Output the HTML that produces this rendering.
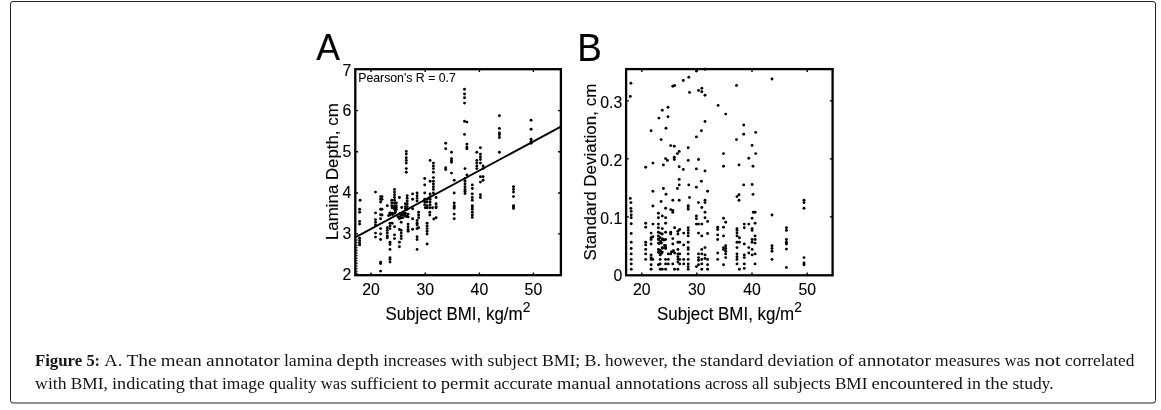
<!DOCTYPE html>
<html lang="en"><head><meta charset="utf-8"><title>Figure 5</title>
<style>
html,body{margin:0;padding:0;background:#fff;}
body{width:1161px;height:410px;position:relative;overflow:hidden;}
</style></head><body>
<svg width="1161" height="410" viewBox="0 0 1161 410" style="position:absolute;left:0;top:0;will-change:transform" font-family="Liberation Sans, Arial, sans-serif" fill="#000" stroke="#000" stroke-width="0"><rect x="10.5" y="1.5" width="1145" height="401.5" rx="2.5" ry="2.5" fill="#fff" stroke="#222" stroke-width="1"/><g stroke-width="0.12"><text transform="translate(316.2 60.4) scale(1 1.04)" font-size="35.6">A</text><text transform="translate(577.3 60.6) scale(1 1.04)" font-size="36.8">B</text><text transform="translate(358.2 81.8) scale(1 1.04)" font-size="12.3" stroke-width="0.05">Pearson's R = 0.7</text><text transform="translate(371.0 294.5)" font-size="15.8" text-anchor="middle">20</text><text transform="translate(425.2 294.5)" font-size="15.8" text-anchor="middle">30</text><text transform="translate(479.4 294.5)" font-size="15.8" text-anchor="middle">40</text><text transform="translate(533.4 294.5)" font-size="15.8" text-anchor="middle">50</text><text transform="translate(351.3 76.4)" font-size="15.8" text-anchor="end">7</text><text transform="translate(351.3 116.3)" font-size="15.8" text-anchor="end">6</text><text transform="translate(351.3 157.1)" font-size="15.8" text-anchor="end">5</text><text transform="translate(351.3 197.5)" font-size="15.8" text-anchor="end">4</text><text transform="translate(351.3 239.2)" font-size="15.8" text-anchor="end">3</text><text transform="translate(351.3 279.6)" font-size="15.8" text-anchor="end">2</text><text transform="translate(385.4 320.2) scale(1 1.04)" font-size="16.92">Subject BMI, kg/m<tspan font-size="13.8" dy="-7.6" dx="0.1">2</tspan></text><text transform="translate(338.1 240.0) rotate(-90)" font-size="16.85">Lamina Depth, cm</text><text transform="translate(641.8 294.5)" font-size="15.8" text-anchor="middle">20</text><text transform="translate(696.8 294.5)" font-size="15.8" text-anchor="middle">30</text><text transform="translate(752.0 294.5)" font-size="15.8" text-anchor="middle">40</text><text transform="translate(807.2 294.5)" font-size="15.8" text-anchor="middle">50</text><text transform="translate(622.2 281.4)" font-size="15.8" text-anchor="end">0</text><text transform="translate(622.2 224.1)" font-size="15.8" text-anchor="end">0.1</text><text transform="translate(622.2 166.0)" font-size="15.8" text-anchor="end">0.2</text><text transform="translate(622.2 108.2)" font-size="15.8" text-anchor="end">0.3</text><text transform="translate(657.0 320.2) scale(1 1.04)" font-size="16.92">Subject BMI, kg/m<tspan font-size="13.8" dy="-7.6" dx="0.1">2</tspan></text><text transform="translate(596.3 260.4) rotate(-90)" font-size="17.0">Standard Deviation, cm</text></g><g><circle cx="359.6" cy="209.3" r="1.45"/><circle cx="359.6" cy="212.3" r="1.45"/><circle cx="359.6" cy="221.4" r="1.45"/><circle cx="359.6" cy="224.1" r="1.45"/><circle cx="359.6" cy="238.2" r="1.45"/><circle cx="359.6" cy="240.7" r="1.45"/><circle cx="359.6" cy="243.1" r="1.45"/><circle cx="359.6" cy="244.9" r="1.45"/><circle cx="360.1" cy="200.2" r="1.45"/><circle cx="375.5" cy="192.1" r="1.45"/><circle cx="375.5" cy="212.9" r="1.45"/><circle cx="375.5" cy="219.6" r="1.45"/><circle cx="375.5" cy="222.3" r="1.45"/><circle cx="375.5" cy="225.0" r="1.45"/><circle cx="375.5" cy="233.1" r="1.45"/><circle cx="375.5" cy="237.1" r="1.45"/><circle cx="380.6" cy="196.6" r="1.45"/><circle cx="380.6" cy="199.3" r="1.45"/><circle cx="380.6" cy="202.0" r="1.45"/><circle cx="380.6" cy="209.3" r="1.45"/><circle cx="380.6" cy="214.7" r="1.45"/><circle cx="380.6" cy="218.7" r="1.45"/><circle cx="380.6" cy="228.6" r="1.45"/><circle cx="380.6" cy="234.0" r="1.45"/><circle cx="380.6" cy="239.5" r="1.45"/><circle cx="380.6" cy="262.1" r="1.45"/><circle cx="380.6" cy="263.5" r="1.45"/><circle cx="380.6" cy="271.1" r="1.45"/><circle cx="382.0" cy="196.6" r="1.45"/><circle cx="382.0" cy="199.3" r="1.45"/><circle cx="382.0" cy="209.3" r="1.45"/><circle cx="382.0" cy="215.0" r="1.45"/><circle cx="387.3" cy="205.7" r="1.45"/><circle cx="387.3" cy="227.7" r="1.45"/><circle cx="387.3" cy="230.4" r="1.45"/><circle cx="387.3" cy="233.1" r="1.45"/><circle cx="387.3" cy="235.9" r="1.45"/><circle cx="387.3" cy="237.7" r="1.45"/><circle cx="390.0" cy="213.2" r="1.45"/><circle cx="390.0" cy="215.0" r="1.45"/><circle cx="390.0" cy="223.2" r="1.45"/><circle cx="390.0" cy="225.9" r="1.45"/><circle cx="390.0" cy="228.6" r="1.45"/><circle cx="390.0" cy="242.2" r="1.45"/><circle cx="390.0" cy="244.4" r="1.45"/><circle cx="390.0" cy="249.4" r="1.45"/><circle cx="390.0" cy="257.6" r="1.45"/><circle cx="390.0" cy="259.4" r="1.45"/><circle cx="390.0" cy="262.1" r="1.45"/><circle cx="391.8" cy="200.2" r="1.45"/><circle cx="391.8" cy="202.9" r="1.45"/><circle cx="391.8" cy="205.7" r="1.45"/><circle cx="392.2" cy="207.8" r="1.45"/><circle cx="392.2" cy="213.2" r="1.45"/><circle cx="392.2" cy="223.2" r="1.45"/><circle cx="394.5" cy="189.4" r="1.45"/><circle cx="394.5" cy="192.1" r="1.45"/><circle cx="394.5" cy="194.8" r="1.45"/><circle cx="394.5" cy="197.5" r="1.45"/><circle cx="394.5" cy="200.2" r="1.45"/><circle cx="394.5" cy="202.9" r="1.45"/><circle cx="394.5" cy="205.7" r="1.45"/><circle cx="394.5" cy="207.8" r="1.45"/><circle cx="394.5" cy="209.6" r="1.45"/><circle cx="394.5" cy="213.2" r="1.45"/><circle cx="394.5" cy="226.8" r="1.45"/><circle cx="394.5" cy="234.9" r="1.45"/><circle cx="394.5" cy="238.6" r="1.45"/><circle cx="396.3" cy="202.9" r="1.45"/><circle cx="396.3" cy="205.7" r="1.45"/><circle cx="396.3" cy="207.8" r="1.45"/><circle cx="396.3" cy="209.6" r="1.45"/><circle cx="399.4" cy="197.5" r="1.45"/><circle cx="399.4" cy="214.1" r="1.45"/><circle cx="399.4" cy="216.9" r="1.45"/><circle cx="399.4" cy="218.7" r="1.45"/><circle cx="399.4" cy="229.5" r="1.45"/><circle cx="399.4" cy="242.2" r="1.45"/><circle cx="399.4" cy="246.7" r="1.45"/><circle cx="401.2" cy="215.0" r="1.45"/><circle cx="401.2" cy="217.8" r="1.45"/><circle cx="401.2" cy="222.3" r="1.45"/><circle cx="401.2" cy="230.4" r="1.45"/><circle cx="401.2" cy="233.1" r="1.45"/><circle cx="401.2" cy="235.9" r="1.45"/><circle cx="401.2" cy="238.6" r="1.45"/><circle cx="401.7" cy="207.5" r="1.45"/><circle cx="403.6" cy="212.3" r="1.45"/><circle cx="403.6" cy="214.1" r="1.45"/><circle cx="405.4" cy="203.8" r="1.45"/><circle cx="405.4" cy="206.6" r="1.45"/><circle cx="405.4" cy="208.7" r="1.45"/><circle cx="405.4" cy="213.2" r="1.45"/><circle cx="405.4" cy="216.0" r="1.45"/><circle cx="406.3" cy="151.4" r="1.45"/><circle cx="406.3" cy="154.1" r="1.45"/><circle cx="406.3" cy="157.7" r="1.45"/><circle cx="406.3" cy="160.4" r="1.45"/><circle cx="406.3" cy="163.1" r="1.45"/><circle cx="406.3" cy="168.6" r="1.45"/><circle cx="406.3" cy="172.2" r="1.45"/><circle cx="407.2" cy="195.7" r="1.45"/><circle cx="407.2" cy="198.4" r="1.45"/><circle cx="407.2" cy="201.1" r="1.45"/><circle cx="407.2" cy="203.8" r="1.45"/><circle cx="407.2" cy="206.6" r="1.45"/><circle cx="407.2" cy="209.3" r="1.45"/><circle cx="408.1" cy="214.1" r="1.45"/><circle cx="408.1" cy="216.9" r="1.45"/><circle cx="408.1" cy="224.1" r="1.45"/><circle cx="408.1" cy="226.8" r="1.45"/><circle cx="408.1" cy="229.5" r="1.45"/><circle cx="408.1" cy="231.3" r="1.45"/><circle cx="412.6" cy="193.9" r="1.45"/><circle cx="412.6" cy="199.3" r="1.45"/><circle cx="412.6" cy="208.7" r="1.45"/><circle cx="412.6" cy="218.7" r="1.45"/><circle cx="412.6" cy="229.2" r="1.45"/><circle cx="417.1" cy="193.0" r="1.45"/><circle cx="417.1" cy="195.7" r="1.45"/><circle cx="417.1" cy="198.4" r="1.45"/><circle cx="417.1" cy="201.1" r="1.45"/><circle cx="417.1" cy="220.5" r="1.45"/><circle cx="417.1" cy="223.2" r="1.45"/><circle cx="417.1" cy="225.0" r="1.45"/><circle cx="417.1" cy="228.6" r="1.45"/><circle cx="417.1" cy="236.8" r="1.45"/><circle cx="417.1" cy="239.5" r="1.45"/><circle cx="417.1" cy="249.4" r="1.45"/><circle cx="418.6" cy="212.3" r="1.45"/><circle cx="418.6" cy="215.0" r="1.45"/><circle cx="418.6" cy="217.8" r="1.45"/><circle cx="418.6" cy="227.7" r="1.45"/><circle cx="424.7" cy="178.5" r="1.45"/><circle cx="424.7" cy="184.9" r="1.45"/><circle cx="424.7" cy="193.0" r="1.45"/><circle cx="424.7" cy="199.3" r="1.45"/><circle cx="424.7" cy="202.0" r="1.45"/><circle cx="424.7" cy="204.8" r="1.45"/><circle cx="425.3" cy="207.8" r="1.45"/><circle cx="427.1" cy="199.3" r="1.45"/><circle cx="427.1" cy="202.0" r="1.45"/><circle cx="427.1" cy="205.7" r="1.45"/><circle cx="427.1" cy="207.8" r="1.45"/><circle cx="427.1" cy="223.2" r="1.45"/><circle cx="427.1" cy="225.9" r="1.45"/><circle cx="427.1" cy="228.6" r="1.45"/><circle cx="427.1" cy="231.3" r="1.45"/><circle cx="427.1" cy="234.0" r="1.45"/><circle cx="427.1" cy="244.0" r="1.45"/><circle cx="429.8" cy="207.8" r="1.45"/><circle cx="429.8" cy="212.3" r="1.45"/><circle cx="429.8" cy="215.0" r="1.45"/><circle cx="430.1" cy="160.4" r="1.45"/><circle cx="430.1" cy="181.2" r="1.45"/><circle cx="430.1" cy="193.9" r="1.45"/><circle cx="430.1" cy="196.6" r="1.45"/><circle cx="430.1" cy="199.3" r="1.45"/><circle cx="430.1" cy="202.0" r="1.45"/><circle cx="430.1" cy="204.8" r="1.45"/><circle cx="432.5" cy="207.8" r="1.45"/><circle cx="433.4" cy="163.1" r="1.45"/><circle cx="433.4" cy="165.9" r="1.45"/><circle cx="433.4" cy="168.6" r="1.45"/><circle cx="433.4" cy="172.2" r="1.45"/><circle cx="433.4" cy="177.6" r="1.45"/><circle cx="433.4" cy="181.2" r="1.45"/><circle cx="433.4" cy="183.9" r="1.45"/><circle cx="433.4" cy="186.7" r="1.45"/><circle cx="433.4" cy="189.4" r="1.45"/><circle cx="433.4" cy="193.0" r="1.45"/><circle cx="433.8" cy="219.0" r="1.45"/><circle cx="436.1" cy="197.5" r="1.45"/><circle cx="436.1" cy="203.8" r="1.45"/><circle cx="436.1" cy="206.6" r="1.45"/><circle cx="436.1" cy="207.8" r="1.45"/><circle cx="436.1" cy="217.8" r="1.45"/><circle cx="445.7" cy="143.2" r="1.45"/><circle cx="445.7" cy="148.7" r="1.45"/><circle cx="445.7" cy="167.7" r="1.45"/><circle cx="445.7" cy="169.5" r="1.45"/><circle cx="451.5" cy="152.3" r="1.45"/><circle cx="451.5" cy="158.6" r="1.45"/><circle cx="451.5" cy="160.4" r="1.45"/><circle cx="451.5" cy="162.2" r="1.45"/><circle cx="451.5" cy="173.1" r="1.45"/><circle cx="454.2" cy="180.3" r="1.45"/><circle cx="454.2" cy="193.0" r="1.45"/><circle cx="454.2" cy="202.9" r="1.45"/><circle cx="454.2" cy="205.7" r="1.45"/><circle cx="454.2" cy="206.9" r="1.45"/><circle cx="454.2" cy="208.4" r="1.45"/><circle cx="454.2" cy="214.1" r="1.45"/><circle cx="454.2" cy="218.7" r="1.45"/><circle cx="464.5" cy="89.2" r="1.45"/><circle cx="464.5" cy="94.0" r="1.45"/><circle cx="464.5" cy="97.7" r="1.45"/><circle cx="464.5" cy="103.1" r="1.45"/><circle cx="464.5" cy="121.2" r="1.45"/><circle cx="464.5" cy="134.4" r="1.45"/><circle cx="465.0" cy="168.6" r="1.45"/><circle cx="465.0" cy="178.5" r="1.45"/><circle cx="465.0" cy="181.2" r="1.45"/><circle cx="465.0" cy="183.9" r="1.45"/><circle cx="465.0" cy="186.7" r="1.45"/><circle cx="465.0" cy="189.4" r="1.45"/><circle cx="465.0" cy="191.2" r="1.45"/><circle cx="465.0" cy="193.5" r="1.45"/><circle cx="466.9" cy="122.1" r="1.45"/><circle cx="466.9" cy="144.1" r="1.45"/><circle cx="466.9" cy="146.9" r="1.45"/><circle cx="466.9" cy="148.7" r="1.45"/><circle cx="466.9" cy="174.9" r="1.45"/><circle cx="472.3" cy="184.9" r="1.45"/><circle cx="472.3" cy="188.5" r="1.45"/><circle cx="472.3" cy="193.9" r="1.45"/><circle cx="472.3" cy="197.5" r="1.45"/><circle cx="472.3" cy="200.2" r="1.45"/><circle cx="472.3" cy="205.7" r="1.45"/><circle cx="472.3" cy="206.9" r="1.45"/><circle cx="472.3" cy="209.3" r="1.45"/><circle cx="472.3" cy="212.3" r="1.45"/><circle cx="472.3" cy="215.0" r="1.45"/><circle cx="472.3" cy="217.4" r="1.45"/><circle cx="476.8" cy="152.3" r="1.45"/><circle cx="476.8" cy="160.4" r="1.45"/><circle cx="476.8" cy="163.1" r="1.45"/><circle cx="476.8" cy="165.9" r="1.45"/><circle cx="476.8" cy="168.6" r="1.45"/><circle cx="480.4" cy="147.8" r="1.45"/><circle cx="480.4" cy="154.1" r="1.45"/><circle cx="480.4" cy="156.8" r="1.45"/><circle cx="480.4" cy="159.5" r="1.45"/><circle cx="480.4" cy="163.1" r="1.45"/><circle cx="480.4" cy="176.7" r="1.45"/><circle cx="480.4" cy="182.1" r="1.45"/><circle cx="480.4" cy="194.8" r="1.45"/><circle cx="480.4" cy="197.5" r="1.45"/><circle cx="483.1" cy="165.9" r="1.45"/><circle cx="483.1" cy="168.6" r="1.45"/><circle cx="483.1" cy="176.7" r="1.45"/><circle cx="483.1" cy="180.3" r="1.45"/><circle cx="499.4" cy="115.8" r="1.45"/><circle cx="499.4" cy="128.4" r="1.45"/><circle cx="499.4" cy="132.9" r="1.45"/><circle cx="499.4" cy="134.8" r="1.45"/><circle cx="499.4" cy="137.5" r="1.45"/><circle cx="499.4" cy="152.3" r="1.45"/><circle cx="513.5" cy="186.7" r="1.45"/><circle cx="513.5" cy="189.4" r="1.45"/><circle cx="513.5" cy="192.1" r="1.45"/><circle cx="513.5" cy="196.6" r="1.45"/><circle cx="513.5" cy="205.7" r="1.45"/><circle cx="513.5" cy="206.9" r="1.45"/><circle cx="513.5" cy="208.4" r="1.45"/><circle cx="531.1" cy="120.3" r="1.45"/><circle cx="531.1" cy="129.3" r="1.45"/><circle cx="531.1" cy="139.3" r="1.45"/><circle cx="531.1" cy="141.4" r="1.45"/><circle cx="531.1" cy="143.2" r="1.45"/><circle cx="390" cy="213" r="1.45"/><circle cx="392.5" cy="214.6" r="1.45"/><circle cx="388.5" cy="215.6" r="1.45"/><circle cx="400" cy="213.5" r="1.45"/><circle cx="402.5" cy="215" r="1.45"/><circle cx="405" cy="214" r="1.45"/><circle cx="407" cy="216.5" r="1.45"/><circle cx="398" cy="217" r="1.45"/><circle cx="403" cy="217.6" r="1.45"/><circle cx="395.5" cy="212" r="1.45"/><circle cx="356.9" cy="240" r="0.8"/><circle cx="356.9" cy="242.6" r="0.8"/><circle cx="356.9" cy="245.2" r="0.8"/><circle cx="356.9" cy="247.8" r="0.8"/><circle cx="356.9" cy="250.4" r="0.8"/><circle cx="356.9" cy="253" r="0.8"/><circle cx="356.9" cy="255.6" r="0.8"/><circle cx="356.9" cy="258.2" r="0.8"/><circle cx="356.9" cy="260.8" r="0.8"/><circle cx="356.9" cy="263.4" r="0.8"/><circle cx="356.9" cy="266" r="0.8"/><circle cx="356.9" cy="268.6" r="0.8"/><circle cx="356.9" cy="271.2" r="0.8"/><circle cx="356.9" cy="273.4" r="0.8"/></g><path d="M355.3 237.4L560.9 126.6" stroke-width="1.8" fill="none"/><rect x="355.3" y="69.2" width="205.6" height="206.0" fill="none" stroke="#000" stroke-width="2.3"/><path d="M371.0 275.2v-2.8M371.0 69.2v2.8M425.2 275.2v-2.8M425.2 69.2v2.8M479.4 275.2v-2.8M479.4 69.2v2.8M533.4 275.2v-2.8M533.4 69.2v2.8M355.3 110.6h2.8M560.9 110.6h-2.8M355.3 151.8h2.8M560.9 151.8h-2.8M355.3 193.0h2.8M560.9 193.0h-2.8M355.3 233.9h2.8M560.9 233.9h-2.8" stroke="#000" stroke-width="1.4" fill="none"/><g><circle cx="630.3" cy="96.4" r="1.45"/><circle cx="630.3" cy="198.4" r="1.45"/><circle cx="630.9" cy="83.2" r="1.45"/><circle cx="630.9" cy="202.6" r="1.45"/><circle cx="630.9" cy="208.4" r="1.45"/><circle cx="631.2" cy="211.4" r="1.45"/><circle cx="631.2" cy="215.0" r="1.45"/><circle cx="631.2" cy="217.8" r="1.45"/><circle cx="631.2" cy="223.7" r="1.45"/><circle cx="631.2" cy="233.5" r="1.45"/><circle cx="631.2" cy="242.2" r="1.45"/><circle cx="631.2" cy="248.5" r="1.45"/><circle cx="631.2" cy="253.9" r="1.45"/><circle cx="631.2" cy="259.4" r="1.45"/><circle cx="631.2" cy="263.9" r="1.45"/><circle cx="631.2" cy="269.3" r="1.45"/><circle cx="645.7" cy="167.3" r="1.45"/><circle cx="645.7" cy="223.2" r="1.45"/><circle cx="645.7" cy="227.3" r="1.45"/><circle cx="645.7" cy="242.2" r="1.45"/><circle cx="645.7" cy="244.9" r="1.45"/><circle cx="645.7" cy="249.4" r="1.45"/><circle cx="645.7" cy="253.9" r="1.45"/><circle cx="645.7" cy="259.4" r="1.45"/><circle cx="651.1" cy="130.8" r="1.45"/><circle cx="651.1" cy="233.1" r="1.45"/><circle cx="651.1" cy="237.7" r="1.45"/><circle cx="651.1" cy="239.5" r="1.45"/><circle cx="651.1" cy="244.0" r="1.45"/><circle cx="651.1" cy="254.9" r="1.45"/><circle cx="651.1" cy="257.6" r="1.45"/><circle cx="651.1" cy="259.4" r="1.45"/><circle cx="651.1" cy="264.8" r="1.45"/><circle cx="651.1" cy="269.3" r="1.45"/><circle cx="652.9" cy="163.1" r="1.45"/><circle cx="652.9" cy="191.2" r="1.45"/><circle cx="652.9" cy="206.0" r="1.45"/><circle cx="652.9" cy="224.1" r="1.45"/><circle cx="652.9" cy="236.8" r="1.45"/><circle cx="652.9" cy="259.4" r="1.45"/><circle cx="658.4" cy="213.2" r="1.45"/><circle cx="658.4" cy="217.8" r="1.45"/><circle cx="658.4" cy="224.1" r="1.45"/><circle cx="658.4" cy="227.7" r="1.45"/><circle cx="658.4" cy="232.2" r="1.45"/><circle cx="658.4" cy="235.9" r="1.45"/><circle cx="658.4" cy="239.5" r="1.45"/><circle cx="658.4" cy="243.1" r="1.45"/><circle cx="658.4" cy="249.4" r="1.45"/><circle cx="658.4" cy="252.1" r="1.45"/><circle cx="658.4" cy="264.8" r="1.45"/><circle cx="658.9" cy="118.1" r="1.45"/><circle cx="660.2" cy="233.1" r="1.45"/><circle cx="660.2" cy="237.7" r="1.45"/><circle cx="660.2" cy="242.2" r="1.45"/><circle cx="660.2" cy="250.3" r="1.45"/><circle cx="660.2" cy="254.9" r="1.45"/><circle cx="660.2" cy="259.4" r="1.45"/><circle cx="660.2" cy="263.9" r="1.45"/><circle cx="660.2" cy="269.3" r="1.45"/><circle cx="661.1" cy="139.6" r="1.45"/><circle cx="661.1" cy="201.5" r="1.45"/><circle cx="662.3" cy="110.3" r="1.45"/><circle cx="662.3" cy="216.0" r="1.45"/><circle cx="662.3" cy="228.6" r="1.45"/><circle cx="662.3" cy="234.0" r="1.45"/><circle cx="662.3" cy="239.5" r="1.45"/><circle cx="662.3" cy="247.6" r="1.45"/><circle cx="662.3" cy="252.1" r="1.45"/><circle cx="662.3" cy="269.3" r="1.45"/><circle cx="663.4" cy="164.9" r="1.45"/><circle cx="663.4" cy="188.5" r="1.45"/><circle cx="665.6" cy="158.6" r="1.45"/><circle cx="665.6" cy="208.2" r="1.45"/><circle cx="665.6" cy="217.8" r="1.45"/><circle cx="665.6" cy="223.2" r="1.45"/><circle cx="665.6" cy="232.2" r="1.45"/><circle cx="665.6" cy="239.5" r="1.45"/><circle cx="665.6" cy="245.8" r="1.45"/><circle cx="665.6" cy="248.5" r="1.45"/><circle cx="665.6" cy="259.4" r="1.45"/><circle cx="665.6" cy="263.9" r="1.45"/><circle cx="665.6" cy="269.3" r="1.45"/><circle cx="666.0" cy="128.2" r="1.45"/><circle cx="666.0" cy="194.3" r="1.45"/><circle cx="667.4" cy="160.4" r="1.45"/><circle cx="668.0" cy="107.3" r="1.45"/><circle cx="668.0" cy="116.7" r="1.45"/><circle cx="668.3" cy="253.9" r="1.45"/><circle cx="668.3" cy="259.4" r="1.45"/><circle cx="668.3" cy="263.9" r="1.45"/><circle cx="670.7" cy="145.6" r="1.45"/><circle cx="670.7" cy="209.6" r="1.45"/><circle cx="670.7" cy="232.2" r="1.45"/><circle cx="670.7" cy="234.0" r="1.45"/><circle cx="670.7" cy="253.9" r="1.45"/><circle cx="672.8" cy="86.3" r="1.45"/><circle cx="672.8" cy="200.2" r="1.45"/><circle cx="672.8" cy="210.5" r="1.45"/><circle cx="672.8" cy="212.3" r="1.45"/><circle cx="672.8" cy="238.6" r="1.45"/><circle cx="672.8" cy="244.0" r="1.45"/><circle cx="672.8" cy="251.2" r="1.45"/><circle cx="672.8" cy="263.9" r="1.45"/><circle cx="674.3" cy="146.3" r="1.45"/><circle cx="674.3" cy="157.3" r="1.45"/><circle cx="674.3" cy="159.5" r="1.45"/><circle cx="674.6" cy="85.5" r="1.45"/><circle cx="674.6" cy="227.7" r="1.45"/><circle cx="674.6" cy="253.0" r="1.45"/><circle cx="674.6" cy="269.3" r="1.45"/><circle cx="677.4" cy="153.6" r="1.45"/><circle cx="677.4" cy="188.5" r="1.45"/><circle cx="677.9" cy="231.3" r="1.45"/><circle cx="677.9" cy="234.0" r="1.45"/><circle cx="677.9" cy="242.2" r="1.45"/><circle cx="677.9" cy="249.4" r="1.45"/><circle cx="677.9" cy="253.9" r="1.45"/><circle cx="677.9" cy="256.7" r="1.45"/><circle cx="677.9" cy="259.4" r="1.45"/><circle cx="677.9" cy="262.1" r="1.45"/><circle cx="677.9" cy="269.3" r="1.45"/><circle cx="679.2" cy="151.4" r="1.45"/><circle cx="679.2" cy="166.8" r="1.45"/><circle cx="679.2" cy="179.4" r="1.45"/><circle cx="679.2" cy="184.9" r="1.45"/><circle cx="679.2" cy="200.2" r="1.45"/><circle cx="679.7" cy="229.5" r="1.45"/><circle cx="679.7" cy="242.2" r="1.45"/><circle cx="679.7" cy="253.9" r="1.45"/><circle cx="679.7" cy="259.4" r="1.45"/><circle cx="679.7" cy="263.9" r="1.45"/><circle cx="683.3" cy="80.5" r="1.45"/><circle cx="683.3" cy="169.5" r="1.45"/><circle cx="683.7" cy="233.1" r="1.45"/><circle cx="683.7" cy="244.9" r="1.45"/><circle cx="683.7" cy="259.4" r="1.45"/><circle cx="683.7" cy="263.9" r="1.45"/><circle cx="688.2" cy="147.8" r="1.45"/><circle cx="688.2" cy="160.4" r="1.45"/><circle cx="688.2" cy="205.7" r="1.45"/><circle cx="688.2" cy="206.9" r="1.45"/><circle cx="688.2" cy="209.3" r="1.45"/><circle cx="688.2" cy="227.7" r="1.45"/><circle cx="688.2" cy="230.4" r="1.45"/><circle cx="688.2" cy="233.1" r="1.45"/><circle cx="688.2" cy="235.9" r="1.45"/><circle cx="688.2" cy="242.2" r="1.45"/><circle cx="688.2" cy="247.6" r="1.45"/><circle cx="688.2" cy="249.4" r="1.45"/><circle cx="688.2" cy="253.9" r="1.45"/><circle cx="688.2" cy="259.4" r="1.45"/><circle cx="688.2" cy="263.9" r="1.45"/><circle cx="688.2" cy="266.6" r="1.45"/><circle cx="688.2" cy="269.3" r="1.45"/><circle cx="688.8" cy="77.2" r="1.45"/><circle cx="688.8" cy="184.9" r="1.45"/><circle cx="689.5" cy="92.4" r="1.45"/><circle cx="689.5" cy="197.5" r="1.45"/><circle cx="696.4" cy="71.1" r="1.45"/><circle cx="696.4" cy="136.9" r="1.45"/><circle cx="696.4" cy="168.9" r="1.45"/><circle cx="696.4" cy="187.2" r="1.45"/><circle cx="696.4" cy="216.0" r="1.45"/><circle cx="696.4" cy="218.7" r="1.45"/><circle cx="696.4" cy="224.1" r="1.45"/><circle cx="696.4" cy="266.6" r="1.45"/><circle cx="698.5" cy="90.4" r="1.45"/><circle cx="698.5" cy="159.5" r="1.45"/><circle cx="698.5" cy="202.6" r="1.45"/><circle cx="698.5" cy="224.1" r="1.45"/><circle cx="698.5" cy="233.1" r="1.45"/><circle cx="698.5" cy="253.9" r="1.45"/><circle cx="698.5" cy="257.6" r="1.45"/><circle cx="698.5" cy="260.3" r="1.45"/><circle cx="698.5" cy="264.8" r="1.45"/><circle cx="701.4" cy="130.8" r="1.45"/><circle cx="701.4" cy="181.2" r="1.45"/><circle cx="701.8" cy="88.3" r="1.45"/><circle cx="701.8" cy="91.7" r="1.45"/><circle cx="701.8" cy="207.5" r="1.45"/><circle cx="701.8" cy="224.1" r="1.45"/><circle cx="701.8" cy="235.9" r="1.45"/><circle cx="701.8" cy="249.4" r="1.45"/><circle cx="701.8" cy="253.9" r="1.45"/><circle cx="701.8" cy="259.4" r="1.45"/><circle cx="701.8" cy="263.9" r="1.45"/><circle cx="701.8" cy="269.3" r="1.45"/><circle cx="705.0" cy="69.3" r="1.45"/><circle cx="705.0" cy="95.3" r="1.45"/><circle cx="705.0" cy="121.5" r="1.45"/><circle cx="705.0" cy="170.9" r="1.45"/><circle cx="705.0" cy="200.2" r="1.45"/><circle cx="705.0" cy="202.6" r="1.45"/><circle cx="705.0" cy="212.3" r="1.45"/><circle cx="705.0" cy="217.8" r="1.45"/><circle cx="705.0" cy="247.6" r="1.45"/><circle cx="705.0" cy="254.9" r="1.45"/><circle cx="705.0" cy="258.5" r="1.45"/><circle cx="707.6" cy="191.2" r="1.45"/><circle cx="707.6" cy="221.4" r="1.45"/><circle cx="707.6" cy="233.5" r="1.45"/><circle cx="707.6" cy="259.4" r="1.45"/><circle cx="707.6" cy="264.8" r="1.45"/><circle cx="707.6" cy="269.3" r="1.45"/><circle cx="717.7" cy="227.3" r="1.45"/><circle cx="717.7" cy="229.5" r="1.45"/><circle cx="717.7" cy="234.9" r="1.45"/><circle cx="717.7" cy="239.5" r="1.45"/><circle cx="717.7" cy="253.0" r="1.45"/><circle cx="717.7" cy="259.4" r="1.45"/><circle cx="718.1" cy="105.4" r="1.45"/><circle cx="723.5" cy="153.6" r="1.45"/><circle cx="723.5" cy="166.2" r="1.45"/><circle cx="723.5" cy="218.3" r="1.45"/><circle cx="723.5" cy="227.3" r="1.45"/><circle cx="723.5" cy="235.9" r="1.45"/><circle cx="723.5" cy="247.6" r="1.45"/><circle cx="723.5" cy="249.4" r="1.45"/><circle cx="723.5" cy="264.8" r="1.45"/><circle cx="725.7" cy="114.1" r="1.45"/><circle cx="725.7" cy="222.3" r="1.45"/><circle cx="725.7" cy="245.8" r="1.45"/><circle cx="725.7" cy="248.5" r="1.45"/><circle cx="725.7" cy="251.2" r="1.45"/><circle cx="725.7" cy="253.9" r="1.45"/><circle cx="725.7" cy="257.6" r="1.45"/><circle cx="736.5" cy="85.5" r="1.45"/><circle cx="736.5" cy="139.6" r="1.45"/><circle cx="737.0" cy="196.6" r="1.45"/><circle cx="737.0" cy="228.6" r="1.45"/><circle cx="737.0" cy="230.4" r="1.45"/><circle cx="737.0" cy="233.1" r="1.45"/><circle cx="737.0" cy="235.9" r="1.45"/><circle cx="737.0" cy="242.2" r="1.45"/><circle cx="737.0" cy="247.6" r="1.45"/><circle cx="737.0" cy="253.9" r="1.45"/><circle cx="737.0" cy="256.7" r="1.45"/><circle cx="737.0" cy="259.4" r="1.45"/><circle cx="737.0" cy="263.9" r="1.45"/><circle cx="739.0" cy="164.9" r="1.45"/><circle cx="739.0" cy="194.8" r="1.45"/><circle cx="739.0" cy="200.2" r="1.45"/><circle cx="739.4" cy="237.7" r="1.45"/><circle cx="739.4" cy="242.2" r="1.45"/><circle cx="739.4" cy="269.3" r="1.45"/><circle cx="743.7" cy="125.0" r="1.45"/><circle cx="743.7" cy="134.2" r="1.45"/><circle cx="743.7" cy="184.9" r="1.45"/><circle cx="744.3" cy="224.1" r="1.45"/><circle cx="744.3" cy="227.7" r="1.45"/><circle cx="744.3" cy="244.0" r="1.45"/><circle cx="744.3" cy="254.9" r="1.45"/><circle cx="744.3" cy="257.6" r="1.45"/><circle cx="744.3" cy="263.9" r="1.45"/><circle cx="744.3" cy="268.4" r="1.45"/><circle cx="748.8" cy="158.3" r="1.45"/><circle cx="748.8" cy="224.1" r="1.45"/><circle cx="748.8" cy="247.6" r="1.45"/><circle cx="748.8" cy="253.0" r="1.45"/><circle cx="752.1" cy="145.4" r="1.45"/><circle cx="752.1" cy="184.5" r="1.45"/><circle cx="752.1" cy="218.3" r="1.45"/><circle cx="752.1" cy="228.6" r="1.45"/><circle cx="752.1" cy="230.4" r="1.45"/><circle cx="752.1" cy="239.5" r="1.45"/><circle cx="752.1" cy="242.2" r="1.45"/><circle cx="752.1" cy="249.4" r="1.45"/><circle cx="752.1" cy="254.9" r="1.45"/><circle cx="753.0" cy="166.2" r="1.45"/><circle cx="753.0" cy="194.4" r="1.45"/><circle cx="753.3" cy="212.3" r="1.45"/><circle cx="755.1" cy="212.3" r="1.45"/><circle cx="755.1" cy="223.2" r="1.45"/><circle cx="755.1" cy="235.9" r="1.45"/><circle cx="755.1" cy="239.5" r="1.45"/><circle cx="755.1" cy="243.1" r="1.45"/><circle cx="755.1" cy="253.9" r="1.45"/><circle cx="755.1" cy="263.9" r="1.45"/><circle cx="755.7" cy="132.4" r="1.45"/><circle cx="755.7" cy="153.6" r="1.45"/><circle cx="772.0" cy="79.0" r="1.45"/><circle cx="772.0" cy="215.0" r="1.45"/><circle cx="772.0" cy="245.8" r="1.45"/><circle cx="772.0" cy="248.5" r="1.45"/><circle cx="772.0" cy="251.2" r="1.45"/><circle cx="772.0" cy="259.4" r="1.45"/><circle cx="786.4" cy="227.7" r="1.45"/><circle cx="786.4" cy="230.4" r="1.45"/><circle cx="786.4" cy="239.5" r="1.45"/><circle cx="786.4" cy="242.2" r="1.45"/><circle cx="786.4" cy="244.0" r="1.45"/><circle cx="786.4" cy="249.1" r="1.45"/><circle cx="786.4" cy="267.5" r="1.45"/><circle cx="804.0" cy="200.2" r="1.45"/><circle cx="804.0" cy="202.6" r="1.45"/><circle cx="804.0" cy="208.2" r="1.45"/><circle cx="804.0" cy="257.6" r="1.45"/><circle cx="804.0" cy="263.0" r="1.45"/><circle cx="804.0" cy="264.8" r="1.45"/><circle cx="658.5" cy="239" r="1.45"/><circle cx="660.5" cy="241.5" r="1.45"/><circle cx="662.5" cy="239" r="1.45"/><circle cx="664" cy="240" r="1.45"/><circle cx="659.5" cy="243.5" r="1.45"/><circle cx="661.5" cy="243" r="1.45"/><circle cx="664.5" cy="245.5" r="1.45"/><circle cx="665.5" cy="248" r="1.45"/><circle cx="662.5" cy="248.2" r="1.45"/><circle cx="660" cy="251" r="1.45"/><circle cx="661.5" cy="253.2" r="1.45"/><circle cx="659" cy="252.5" r="1.45"/><circle cx="671.5" cy="252" r="1.45"/><circle cx="673.5" cy="250.8" r="1.45"/></g><rect x="626.1" y="69.1" width="206.5" height="206.2" fill="none" stroke="#000" stroke-width="2.3"/><path d="M641.8 275.3v-2.8M641.8 69.1v2.8M696.8 275.3v-2.8M696.8 69.1v2.8M752.0 275.3v-2.8M752.0 69.1v2.8M807.2 275.3v-2.8M807.2 69.1v2.8M626.1 216.9h2.8M832.6 216.9h-2.8M626.1 158.9h2.8M832.6 158.9h-2.8M626.1 100.9h2.8M832.6 100.9h-2.8" stroke="#000" stroke-width="1.4" fill="none"/><g font-family="Liberation Serif, Times New Roman, serif" fill="#141414" stroke="none"><text y="366.0" font-size="17.6" style="white-space:pre"><tspan x="34.9" textLength="47.3" lengthAdjust="spacingAndGlyphs" font-weight="bold">Figure</tspan> <tspan x="86.4" textLength="13.7" lengthAdjust="spacingAndGlyphs" font-weight="bold">5:</tspan> <tspan x="104.3" textLength="18.0" lengthAdjust="spacingAndGlyphs">A.</tspan> <tspan x="126.5" textLength="30.1" lengthAdjust="spacingAndGlyphs">The</tspan> <tspan x="160.8" textLength="41.0" lengthAdjust="spacingAndGlyphs">mean</tspan> <tspan x="206.0" textLength="73.7" lengthAdjust="spacingAndGlyphs">annotator</tspan> <tspan x="283.9" textLength="48.5" lengthAdjust="spacingAndGlyphs">lamina</tspan> <tspan x="336.6" textLength="42.5" lengthAdjust="spacingAndGlyphs">depth</tspan> <tspan x="383.3" textLength="63.2" lengthAdjust="spacingAndGlyphs">increases</tspan> <tspan x="450.7" textLength="32.6" lengthAdjust="spacingAndGlyphs">with</tspan> <tspan x="487.5" textLength="50.2" lengthAdjust="spacingAndGlyphs">subject</tspan> <tspan x="541.9" textLength="38.3" lengthAdjust="spacingAndGlyphs">BMI;</tspan> <tspan x="584.4" textLength="16.5" lengthAdjust="spacingAndGlyphs">B.</tspan> <tspan x="605.1" textLength="62.7" lengthAdjust="spacingAndGlyphs">however,</tspan> <tspan x="672.0" textLength="23.8" lengthAdjust="spacingAndGlyphs">the</tspan> <tspan x="700.0" textLength="63.3" lengthAdjust="spacingAndGlyphs">standard</tspan> <tspan x="767.5" textLength="66.5" lengthAdjust="spacingAndGlyphs">deviation</tspan> <tspan x="838.2" textLength="15.7" lengthAdjust="spacingAndGlyphs">of</tspan> <tspan x="858.1" textLength="72.8" lengthAdjust="spacingAndGlyphs">annotator</tspan> <tspan x="935.1" textLength="65.2" lengthAdjust="spacingAndGlyphs">measures</tspan> <tspan x="1004.5" textLength="25.8" lengthAdjust="spacingAndGlyphs">was</tspan> <tspan x="1034.5" textLength="26.3" lengthAdjust="spacingAndGlyphs">not</tspan> <tspan x="1065.0" textLength="69.4" lengthAdjust="spacingAndGlyphs">correlated</tspan></text><text y="388.7" font-size="17.6" style="white-space:pre"><tspan x="35.1" textLength="31.5" lengthAdjust="spacingAndGlyphs">with</tspan> <tspan x="70.8" textLength="37.0" lengthAdjust="spacingAndGlyphs">BMI,</tspan> <tspan x="112.0" textLength="72.8" lengthAdjust="spacingAndGlyphs">indicating</tspan> <tspan x="189.0" textLength="28.8" lengthAdjust="spacingAndGlyphs">that</tspan> <tspan x="222.0" textLength="42.7" lengthAdjust="spacingAndGlyphs">image</tspan> <tspan x="268.9" textLength="47.7" lengthAdjust="spacingAndGlyphs">quality</tspan> <tspan x="320.8" textLength="25.8" lengthAdjust="spacingAndGlyphs">was</tspan> <tspan x="350.8" textLength="67.0" lengthAdjust="spacingAndGlyphs">sufficient</tspan> <tspan x="422.0" textLength="14.6" lengthAdjust="spacingAndGlyphs">to</tspan> <tspan x="440.8" textLength="48.7" lengthAdjust="spacingAndGlyphs">permit</tspan> <tspan x="493.7" textLength="59.0" lengthAdjust="spacingAndGlyphs">accurate</tspan> <tspan x="556.9" textLength="54.2" lengthAdjust="spacingAndGlyphs">manual</tspan> <tspan x="615.3" textLength="85.5" lengthAdjust="spacingAndGlyphs">annotations</tspan> <tspan x="705.0" textLength="42.8" lengthAdjust="spacingAndGlyphs">across</tspan> <tspan x="752.0" textLength="17.0" lengthAdjust="spacingAndGlyphs">all</tspan> <tspan x="773.2" textLength="57.5" lengthAdjust="spacingAndGlyphs">subjects</tspan> <tspan x="834.9" textLength="32.5" lengthAdjust="spacingAndGlyphs">BMI</tspan> <tspan x="871.6" textLength="91.2" lengthAdjust="spacingAndGlyphs">encountered</tspan> <tspan x="967.0" textLength="13.8" lengthAdjust="spacingAndGlyphs">in</tspan> <tspan x="985.0" textLength="23.3" lengthAdjust="spacingAndGlyphs">the</tspan> <tspan x="1012.5" textLength="41.1" lengthAdjust="spacingAndGlyphs">study.</tspan></text></g></svg>
</body></html>
